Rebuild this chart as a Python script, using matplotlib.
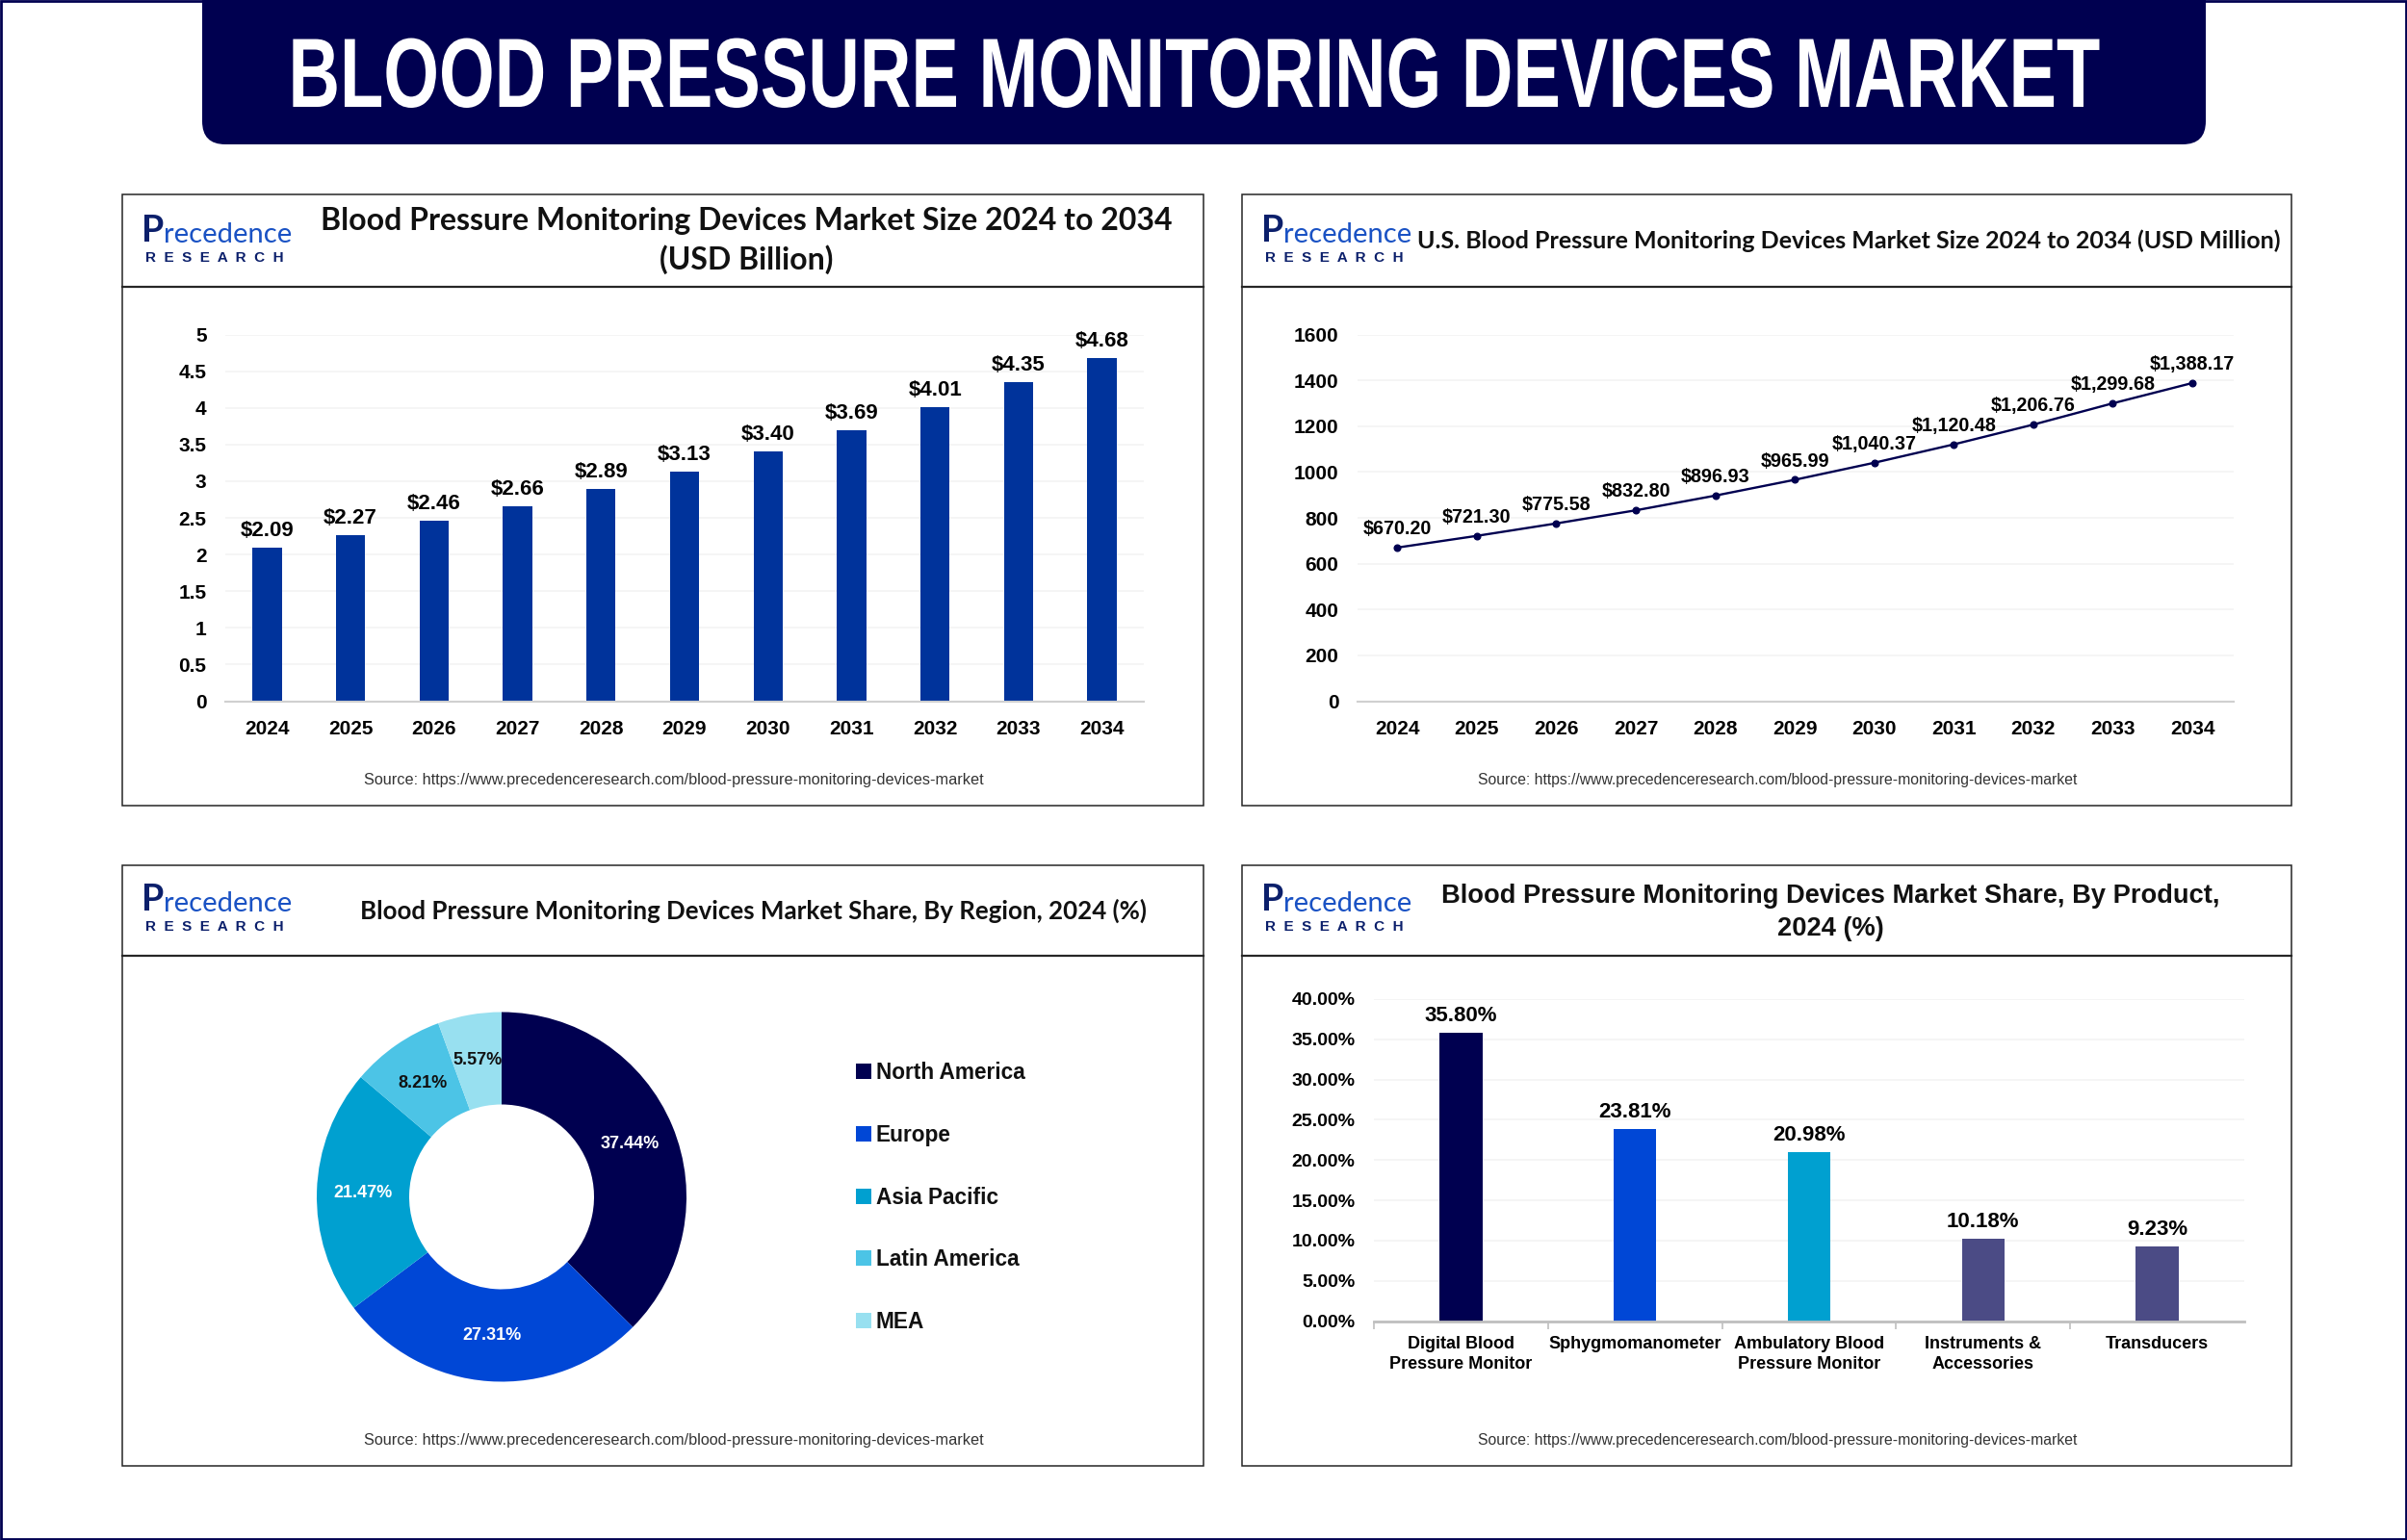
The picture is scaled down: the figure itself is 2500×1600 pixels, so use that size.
import matplotlib
matplotlib.use("Agg")
from matplotlib import pyplot as plt
from matplotlib.patches import Rectangle, FancyBboxPatch
from matplotlib.patheffects import AbstractPathEffect
from matplotlib.transforms import Affine2D

W = 2500
H = 1600

NAVY = "#000050"
BAR_BLUE = "#00339b"
HEAD = "Lato"
plt.rcParams["font.family"] = ["Liberation Sans", "DejaVu Sans"]
plt.rcParams["font.weight"] = "bold"

main_title = "BLOOD PRESSURE MONITORING DEVICES MARKET"
source = "Source: https://www.precedenceresearch.com/blood-pressure-monitoring-devices-market"

years = [2024, 2025, 2026, 2027, 2028, 2029, 2030, 2031, 2032, 2033, 2034]
global_size = [2.09, 2.27, 2.46, 2.66, 2.89, 3.13, 3.40, 3.69, 4.01, 4.35, 4.68]
us_size = [670.20, 721.30, 775.58, 832.80, 896.93, 965.99, 1040.37, 1120.48, 1206.76, 1299.68, 1388.17]

global_ticks = [0, 0.5, 1, 1.5, 2, 2.5, 3, 3.5, 4, 4.5, 5]
global_ticklabels = ["0", "0.5", "1", "1.5", "2", "2.5", "3", "3.5", "4", "4.5", "5"]
us_ticks = [0, 200, 400, 600, 800, 1000, 1200, 1400, 1600]

regions = ["North America", "Europe", "Asia Pacific", "Latin America", "MEA"]
region_share = [37.44, 27.31, 21.47, 8.21, 5.57]
region_colors = ["#000050", "#0047d6", "#00a0d0", "#4cc4e6", "#98e0f0"]

products = ["Digital Blood\nPressure Monitor", "Sphygmomanometer", "Ambulatory Blood\nPressure Monitor",
            "Instruments &\nAccessories", "Transducers"]
product_share = [35.80, 23.81, 20.98, 10.18, 9.23]
product_colors = ["#000050", "#0047d6", "#00a0d0", "#4b4b85", "#4b4b85"]
product_ticks = [0, 5, 10, 15, 20, 25, 30, 35, 40]


class TallText(AbstractPathEffect):
    """文字を縦に伸ばす (細長いフォントの代わり)"""

    def __init__(self, sy):
        super().__init__()
        self.sy = sy

    def draw_path(self, renderer, gc, tpath, affine, rgbFace=None):
        renderer.draw_path(gc, tpath, Affine2D().scale(1, self.sy) + affine, rgbFace)


def px_axes(fig, x0, y0, x1, y1):
    """ピクセル座標で軸を作る"""
    return fig.add_axes([x0 / W, 1 - y1 / H, (x1 - x0) / W, (y1 - y0) / H])


def panel(page, x0, y0, x1, y1, head_y, source_size):
    page.add_patch(Rectangle((x0, y0), x1 - x0, y1 - y0, fc="white", ec="#262626", lw=1.1))
    page.plot([x0, x1], [head_y, head_y], color="#262626", lw=1.6)
    page.text((x0 + x1) / 2 + 11, y1 - 26, source, fontsize=source_size, color="#333333",
              ha="center", va="center", fontweight="normal")
    # logo
    lx = x0 + 20
    page.text(lx, head_y - 58, "P", fontsize=27, color="#0b1f6b", ha="left", va="center",
              family="Lato", fontweight="bold")
    page.text(lx + 23, head_y - 54, "recedence", fontsize=21, color="#1a52c4", ha="left", va="center",
              family="Lato", fontweight="normal")
    page.text(lx + 4, head_y - 30, "R  E  S  E  A  R  C  H", fontsize=11, color="#0b1f6b",
              ha="left", va="center", fontweight="bold")


def clean(ax, grid_color="#f4f4f4"):
    for s in ["top", "right", "left"]:
        ax.spines[s].set_visible(False)
    ax.spines["bottom"].set_color("#d0d0d0")
    ax.spines["bottom"].set_linewidth(1.5)
    ax.grid(axis="y", color=grid_color, lw=1.2)
    ax.set_axisbelow(True)
    ax.tick_params(axis="y", length=0, pad=14, labelsize=15)
    ax.tick_params(axis="x", length=0, pad=14, labelsize=15)


def main():
    fig = plt.figure(figsize=(W / 100, H / 100), dpi=100, facecolor="white")

    page = fig.add_axes([0, 0, 1, 1])
    page.set_xlim(0, W)
    page.set_ylim(H, 0)
    page.axis("off")
    page.add_patch(Rectangle((1, 1), W - 2, H - 2, fc="white", ec=NAVY, lw=2))

    # banner
    page.add_patch(FancyBboxPatch((210, -60), 2081, 210, boxstyle="round,pad=0,rounding_size=24",
                                  fc=NAVY, ec="none"))
    page.text(1240, 111, main_title, fontsize=53.4, color="white", ha="center", va="baseline",
              path_effects=[TallText(1.38)])

    panel(page, 127, 202, 1250, 837, 298, 11.7)
    panel(page, 1290, 202, 2380, 837, 298, 11.3)
    panel(page, 127, 899, 1250, 1523, 993, 11.7)
    panel(page, 1290, 899, 2380, 1523, 993, 11.3)

    # panel titles
    page.text(775, 250, "Blood Pressure Monitoring Devices Market Size 2024 to 2034\n(USD Billion)",
              fontsize=23, family=HEAD, ha="center", va="center", linespacing=1.4, color="#111111")
    page.text(1920, 250, "U.S. Blood Pressure Monitoring Devices Market Size 2024 to 2034 (USD Million)",
              fontsize=18, family=HEAD, ha="center", va="center", color="#111111")
    page.text(783, 946, "Blood Pressure Monitoring Devices Market Share, By Region, 2024 (%)",
              fontsize=18.6, family=HEAD, ha="center", va="center", color="#111111")
    page.text(1901, 948, "Blood Pressure Monitoring Devices Market Share, By Product,\n2024 (%)",
              fontsize=19.6, ha="center", va="center", linespacing=1.4, color="#111111")

    # global bars
    ax = px_axes(fig, 234, 347.5, 1188, 728.5)
    ax.set_facecolor("none")
    clean(ax)
    bars = ax.bar(years, global_size, width=0.35, color=BAR_BLUE)
    ax.bar_label(bars, labels=["$%.2f" % v for v in global_size], padding=5, fontsize=16)
    ax.set_xlim(2024 - 0.5, 2034 + 0.5)
    ax.set_ylim(0, 5)
    ax.set_xticks(years)
    ax.set_yticks(global_ticks, global_ticklabels)

    # US line
    ax = px_axes(fig, 1410, 347.5, 2320, 728.5)
    ax.set_facecolor("none")
    clean(ax)
    ax.plot(years, us_size, color=NAVY, lw=1.7, marker="o", markersize=4.8)
    for year, val in zip(years, us_size):
        ax.annotate("${:,.2f}".format(val), (year, val), xytext=(0, 7), textcoords="offset points",
                    ha="center", va="bottom", fontsize=14.2)
    ax.set_xlim(2024 - 0.5, 2034 + 0.52)
    ax.set_ylim(0, 1600)
    ax.set_xticks(years)
    ax.set_yticks(us_ticks)

    # donut
    ax = px_axes(fig, 321, 1043.5, 721, 1443.5)
    wedges, _, pct = ax.pie(region_share, colors=region_colors, startangle=90, counterclock=False,
                            radius=0.96, wedgeprops=dict(width=0.48), autopct="%.2f%%", pctdistance=0.75,
                            textprops=dict(fontsize=13, color="white"))
    ax.set_xlim(-1, 1)
    ax.set_ylim(-1, 1)
    pct[3].set_color("#111111")
    pct[4].set_color("#111111")
    fig.legend(wedges, regions, loc="upper left", bbox_to_anchor=(878 / W, 1 - 1092 / H), frameon=False,
               fontsize=16.3, handlelength=0.7, handleheight=0.7, handletextpad=0.2,
               labelspacing=1.84, borderpad=0, labelcolor="#111111")

    # product bars
    ax = px_axes(fig, 1427, 1038, 2331, 1372.5)
    ax.set_facecolor("none")
    clean(ax)
    bars = ax.bar(range(5), product_share, width=0.245, color=product_colors)
    ax.bar_label(bars, labels=["%.2f%%" % v for v in product_share], padding=5, fontsize=16)
    ax.set_xlim(-0.5, 4.5)
    ax.set_ylim(0, 40)
    ax.set_yticks(product_ticks, ["%.2f%%" % t for t in product_ticks])
    ax.set_xticks(range(5), products, linespacing=1.35)
    ax.set_xticks([-0.5, 0.5, 1.5, 2.5, 3.5], minor=True)
    ax.tick_params(axis="x", which="minor", length=6, color="#bfbfbf", width=1.2)
    ax.tick_params(axis="x", which="major", labelsize=13, pad=11)
    ax.tick_params(axis="y", labelsize=14)
    ax.spines["bottom"].set_color("#bfbfbf")
    ax.spines["bottom"].set_linewidth(2)

    fig.savefig("out.png", dpi=100)


if __name__ == "__main__":
    main()
